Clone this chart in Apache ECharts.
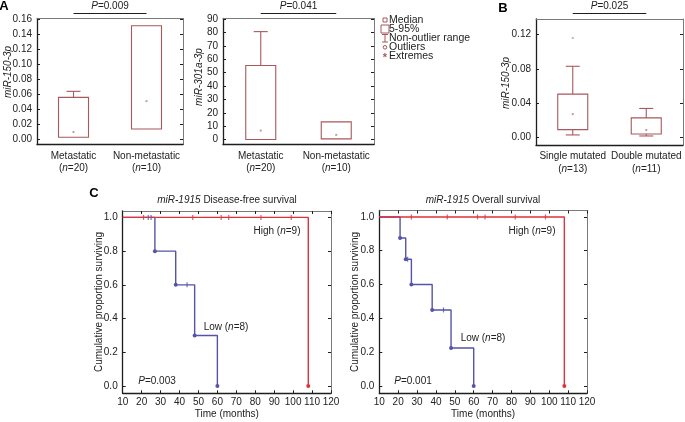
<!DOCTYPE html>
<html>
<head>
<meta charset="UTF-8">
<title>miR-150-3p / miR-301a-3p / miR-1915</title>
<script src="https://cdn.jsdelivr.net/npm/echarts@6.0.0/dist/echarts.min.js"></script>
<style>
    html, body { margin: 0; padding: 0; background: #fff; }
    #chart { width: 685px; height: 422px; }
</style>
</head>
<body>
<div id="chart"></div>
<script>
// ---- values ----
const groupsA = ['Metastatic', 'Non-metastatic'];
const groupsAN = [20, 10];
const groupsB = ['Single mutated', 'Double mutated'];
const groupsBN = [13, 11];

// each row: [non-outlier min, box low, median, box high, non-outlier max]
const mir150Meta = [[0.003, 0.003, 0.010, 0.056, 0.064], [0.014, 0.014, 0.051, 0.151, 0.151]];
const mir301Meta = [[0, 0, 6.7, 55.3, 80.6], [0.5, 0.5, 3.5, 13.2, 13.2]];
const mir150Mut = [[0.0032, 0.0094, 0.0274, 0.0507, 0.083], [0.002, 0.0043, 0.009, 0.023, 0.034]];
const mir150MutOutliers = [[0, 0.116]];

const ticksA150 = [0, 0.02, 0.04, 0.06, 0.08, 0.10, 0.12, 0.14, 0.16];
const ticksA301 = [0, 10, 20, 30, 40, 50, 60, 70, 80, 90];
const ticksB = [0, 0.04, 0.08, 0.12];
const ticksSurv = [0, 0.2, 0.4, 0.6, 0.8, 1.0];

// Kaplan-Meier curves: time (months) and survival after each step
const dfsHighT = [10, 108];
const dfsHighS = [1, 0];
const dfsLowT = [10, 27, 38, 48, 60];
const dfsLowS = [1, 0.8, 0.6, 0.3, 0];
const dfsHighCens = [[21, 1], [47, 1], [62, 1], [66, 1], [83, 1], [99, 1]];
const dfsLowCens = [[23.5, 1], [25, 1], [44, 0.6]];

const osHighT = [10, 108];
const osHighS = [1, 0];
const osLowT = [10, 21, 24, 27, 38, 48, 60];
const osLowS = [1, 0.875, 0.75, 0.6, 0.45, 0.225, 0];
const osHighCens = [[27, 1], [46, 1], [62, 1], [66, 1], [82, 1], [98, 1]];
const osLowCens = [[25, 0.75], [44, 0.45]];

// ---- styling ----
const FONT = 'Liberation Sans';
const INK = '#1e1e1e';
const FRAME = '#7a7a7a';
const BOX = '#a9585b';
const MED = '#c79a9a';
const RED = '#e0323c';
const BLUE = '#5454a8';

const chart = echarts.init(document.getElementById('chart'));

function catAxes(gi, names, ns) {
    return [
        {
            type: 'category', gridIndex: gi, data: names, position: 'bottom',
            axisLine: { onZero: false, lineStyle: { color: INK, width: 1.3 } },
            axisTick: { inside: true, length: 3, alignWithLabel: true, lineStyle: { color: INK } },
            axisLabel: {
                fontFamily: FONT, fontSize: 10, color: '#222', lineHeight: 12.5, margin: 5, interval: 0,
                formatter: (v, i) => v + '\n({i|n}=' + ns[i] + ')',
                rich: { i: { fontStyle: 'italic', fontFamily: FONT, fontSize: 10, color: '#222' } }
            }
        },
        {
            type: 'category', gridIndex: gi, data: names, position: 'top',
            axisLine: { onZero: false, lineStyle: { color: FRAME, width: 1 } },
            axisTick: { inside: true, length: 3, alignWithLabel: true, lineStyle: { color: INK } },
            axisLabel: { show: false }
        }
    ];
}

function valAxes(gi, min, max, ticks, dec) {
    return [
        {
            type: 'value', gridIndex: gi, position: 'left', min: min, max: max,
            splitLine: { show: false },
            axisLine: { show: true, onZero: false, lineStyle: { color: INK, width: 1.3 } },
            axisTick: { show: true, inside: true, length: 3, customValues: ticks, lineStyle: { color: INK } },
            axisLabel: { customValues: ticks, formatter: v => v.toFixed(dec), fontFamily: FONT, fontSize: 10, color: '#222', margin: 5 }
        },
        {
            type: 'value', gridIndex: gi, position: 'right', min: min, max: max,
            splitLine: { show: false },
            axisLine: { show: true, onZero: false, lineStyle: { color: FRAME, width: 1 } },
            axisTick: { show: true, inside: true, length: 3, customValues: ticks, lineStyle: { color: INK } },
            axisLabel: { show: false }
        }
    ];
}

function boxItem(params, api) {
    const c = api.value(0);
    const pt = v => api.coord([c, v]);
    const lo = pt(api.value(1)), q1 = pt(api.value(2)), md = pt(api.value(3));
    const q3 = pt(api.value(4)), hi = pt(api.value(5));
    const x = lo[0], bw = 15, cw = 7;
    const ls = { stroke: BOX, lineWidth: 1.1, fill: null };
    const ch = [{
        type: 'rect', shape: { x: x - bw, y: q3[1], width: 2 * bw, height: q1[1] - q3[1] },
        style: { stroke: BOX, fill: 'rgba(0,0,0,0)', lineWidth: 1.1 }
    }];
    if (hi[1] < q3[1] - 0.5) {
        ch.push({ type: 'line', shape: { x1: x, y1: q3[1], x2: x, y2: hi[1] }, style: ls });
        ch.push({ type: 'line', shape: { x1: x - cw, y1: hi[1], x2: x + cw, y2: hi[1] }, style: ls });
    }
    if (lo[1] > q1[1] + 0.5) {
        ch.push({ type: 'line', shape: { x1: x, y1: q1[1], x2: x, y2: lo[1] }, style: ls });
        ch.push({ type: 'line', shape: { x1: x - cw, y1: lo[1], x2: x + cw, y2: lo[1] }, style: ls });
    }
    ch.push({ type: 'rect', shape: { x: md[0] - 1, y: md[1] - 1, width: 2, height: 2 }, style: { fill: MED } });
    return { type: 'group', children: ch };
}

function boxSeries(ai, rows) {
    return {
        type: 'custom', xAxisIndex: ai, yAxisIndex: ai, renderItem: boxItem,
        encode: { x: 0, y: [1, 2, 3, 4, 5] },
        data: rows.map((r, i) => [i].concat(r))
    };
}

function kmSeries(ai, times, surv, color) {
    return {
        type: 'line', xAxisIndex: ai, yAxisIndex: ai, step: 'end',
        symbol: 'circle', symbolSize: 4, showAllSymbol: true,
        lineStyle: { color: color, width: 1.4 }, itemStyle: { color: color },
        data: times.map((t, i) => i === 0 ? { value: [t, surv[i]], symbol: 'none' } : [t, surv[i]])
    };
}

function censSeries(ai, pts, color) {
    return {
        type: 'scatter', xAxisIndex: ai, yAxisIndex: ai, symbol: 'rect', symbolSize: [1.2, 5],
        itemStyle: { color: color }, data: pts, z: 3
    };
}

function txt(x, y, text, opt) {
    const size = (opt && opt.size) || 10;
    return {
        type: 'text', x: x, y: y, rotation: (opt && opt.rot) || 0,
        style: Object.assign({
            text: text, font: size + 'px ' + FONT, fill: '#222', align: 'center', verticalAlign: 'middle',
            rich: { i: { fontStyle: 'italic', fontFamily: FONT, fontSize: size, fill: '#222' } }
        }, (opt && opt.style) || {})
    };
}

const timeAxisBottom = {
    type: 'value', min: 10, max: 120, interval: 10, position: 'bottom',
    splitLine: { show: false },
    axisLine: { show: true, onZero: false, lineStyle: { color: INK, width: 1.3 } },
    axisTick: { show: true, inside: true, length: 3, lineStyle: { color: INK } },
    axisLabel: { fontFamily: FONT, fontSize: 10, color: '#222', margin: 4 },
    name: 'Time (months)', nameLocation: 'middle', nameGap: 16,
    nameTextStyle: { fontFamily: FONT, fontSize: 10, color: '#222' }
};
const timeAxisTop = {
    type: 'value', min: 10, max: 120, interval: 10, position: 'top',
    splitLine: { show: false },
    axisLine: { show: true, onZero: false, lineStyle: { color: FRAME, width: 1 } },
    axisTick: { show: true, inside: true, length: 3, lineStyle: { color: INK } },
    axisLabel: { show: false }
};

const legendX = 385;
const bold = { font: 'bold 13px ' + FONT, fill: '#000' };
const left = { align: 'left', font: '10.5px ' + FONT };
const staticGraphics = [
    txt(4, 6, 'A', { style: bold }),
    txt(503, 8, 'B', { style: bold }),
    txt(94, 193, 'C', { style: bold }),
    txt(8, 72, '{i|miR-150-3p}', { rot: Math.PI / 2 }),
    txt(199, 77, '{i|miR-301a-3p}', { rot: Math.PI / 2 }),
    txt(506, 83, '{i|miR-150-3p}', { rot: Math.PI / 2 }),
    txt(99, 302, 'Cumulative proportion surviving', { rot: Math.PI / 2 }),
    txt(355, 302, 'Cumulative proportion surviving', { rot: Math.PI / 2 }),
    txt(227, 200, '{i|miR-1915} Disease-free survival'),
    txt(483, 200, '{i|miR-1915} Overall survival'),
    txt(277, 231, 'High ({i|n}=9)'),
    txt(226, 327, 'Low ({i|n}=8)'),
    txt(157, 381, '{i|P}=0.003'),
    txt(532, 231, 'High ({i|n}=9)'),
    txt(483, 338, 'Low ({i|n}=8)'),
    txt(413, 381, '{i|P}=0.001'),
    // box-plot key
    { type: 'rect', shape: { x: legendX - 2, y: 18, width: 4, height: 4 }, style: { stroke: BOX, fill: 'none', lineWidth: 1 } },
    { type: 'rect', shape: { x: legendX - 4, y: 25, width: 8, height: 8 }, style: { stroke: BOX, fill: 'none', lineWidth: 1 } },
    { type: 'line', shape: { x1: legendX, y1: 34.5, x2: legendX, y2: 42 }, style: { stroke: BOX, lineWidth: 1 } },
    { type: 'line', shape: { x1: legendX - 3, y1: 34.5, x2: legendX + 3, y2: 34.5 }, style: { stroke: BOX, lineWidth: 1 } },
    { type: 'line', shape: { x1: legendX - 3, y1: 42, x2: legendX + 3, y2: 42 }, style: { stroke: BOX, lineWidth: 1 } },
    { type: 'circle', shape: { cx: legendX, cy: 47.3, r: 1.8 }, style: { stroke: BOX, fill: 'none', lineWidth: 1 } },
    txt(legendX, 57.5, '*', { style: { font: 'bold 11px ' + FONT, fill: BOX } }),
    txt(389, 20, 'Median', { style: left }),
    txt(389, 29.3, '5-95%', { style: left }),
    txt(389, 38.3, 'Non-outlier range', { style: left }),
    txt(389, 47.3, 'Outliers', { style: left }),
    txt(389, 56, 'Extremes', { style: left })
];

const gridBase = { containLabel: false, outerBoundsMode: 'none', show: false };

chart.setOption({
    animation: false,
    backgroundColor: '#fff',
    textStyle: { fontFamily: FONT },
    grid: [
        Object.assign({ left: 37, top: 18.5, width: 146, height: 126 }, gridBase),
        Object.assign({ left: 223, top: 18.5, width: 151, height: 126 }, gridBase),
        Object.assign({ left: 536, top: 19, width: 147, height: 126 }, gridBase),
        Object.assign({ left: 122.7, top: 211, width: 208.3, height: 182.3 }, gridBase),
        Object.assign({ left: 379.3, top: 210.5, width: 207.7, height: 182.8 }, gridBase)
    ],
    xAxis: [].concat(
        catAxes(0, groupsA, groupsAN),
        catAxes(1, groupsA, groupsAN),
        catAxes(2, groupsB, groupsBN),
        [Object.assign({ gridIndex: 3 }, timeAxisBottom), Object.assign({ gridIndex: 3 }, timeAxisTop)],
        [Object.assign({ gridIndex: 4 }, timeAxisBottom), Object.assign({ gridIndex: 4 }, timeAxisTop)]
    ),
    yAxis: [].concat(
        valAxes(0, -0.0066, 0.1607, ticksA150, 2),
        valAxes(1, -3.7, 90.4, ticksA301, 0),
        valAxes(2, -0.0085, 0.138, ticksB, 2),
        valAxes(3, -0.043, 1.038, ticksSurv, 1),
        valAxes(4, -0.043, 1.038, ticksSurv, 1)
    ),
    series: [
        boxSeries(0, mir150Meta),
        boxSeries(2, mir301Meta),
        boxSeries(4, mir150Mut),
        {
            type: 'scatter', xAxisIndex: 4, yAxisIndex: 4, symbol: 'rect', symbolSize: 2,
            itemStyle: { color: MED }, data: mir150MutOutliers
        },
        kmSeries(6, dfsLowT, dfsLowS, BLUE),
        kmSeries(6, dfsHighT, dfsHighS, RED),
        censSeries(6, dfsLowCens, BLUE),
        censSeries(6, dfsHighCens, RED),
        kmSeries(8, osLowT, osLowS, BLUE),
        kmSeries(8, osHighT, osHighS, RED),
        censSeries(8, osLowCens, BLUE),
        censSeries(8, osHighCens, RED)
    ],
    graphic: staticGraphics
});

// significance brackets between the two groups of each box plot
const brackets = [[0, groupsA, '0.009'], [2, groupsA, '0.041'], [4, groupsB, '0.025']];
const bracketEls = [];
brackets.forEach(b => {
    const x1 = chart.convertToPixel({ xAxisIndex: b[0] }, b[1][0]);
    const x2 = chart.convertToPixel({ xAxisIndex: b[0] }, b[1][1]);
    bracketEls.push({ type: 'line', shape: { x1: x1, y1: 13.5, x2: x2, y2: 13.5 }, style: { stroke: INK, lineWidth: 1.2 } });
    bracketEls.push(txt((x1 + x2) / 2, 6.5, '{i|P}=' + b[2]));
});
chart.setOption({ graphic: staticGraphics.concat(bracketEls) });
</script>
</body>
</html>
